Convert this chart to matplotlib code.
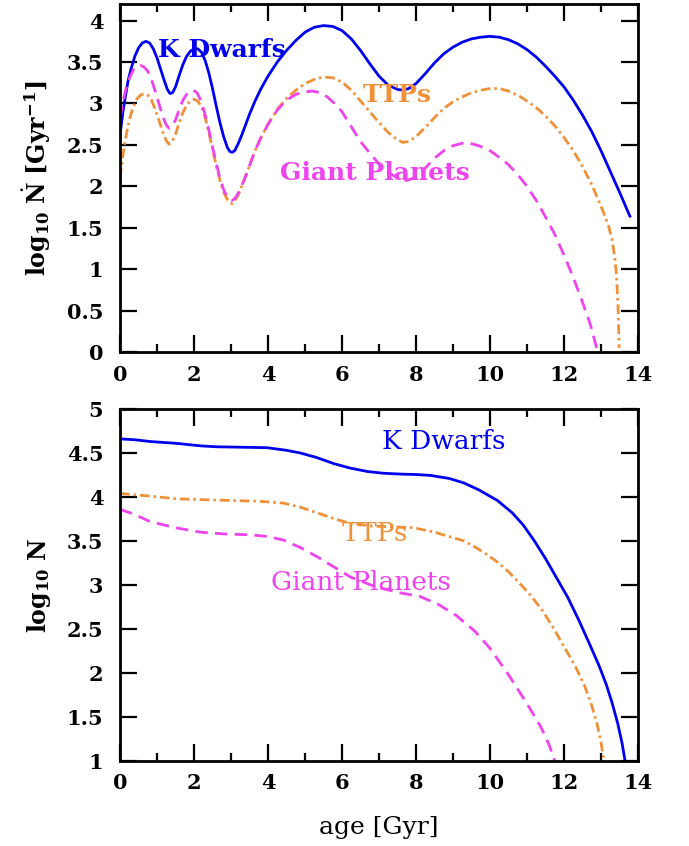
import matplotlib
matplotlib.use("Agg")
import matplotlib.pyplot as plt
from matplotlib.ticker import MultipleLocator

plt.rcParams['font.family'] = ['DejaVu Serif']
plt.rcParams['mathtext.fontset'] = 'dejavuserif'

# ---- top panel: formation rate, log10 Ndot [Gyr^-1] ----
kd_rate_age = [0.0, 0.08, 0.15, 0.22, 0.3, 0.4, 0.5, 0.6, 0.7, 0.8, 0.9, 1.0, 1.1, 1.2, 1.28, 1.35,
               1.42, 1.5, 1.6, 1.7, 1.8, 1.9, 2.0, 2.1, 2.2, 2.3, 2.4, 2.5, 2.6, 2.7, 2.8, 2.9,
               2.97, 3.03, 3.1, 3.2, 3.3, 3.4, 3.5, 3.65, 3.8, 4.0, 4.25, 4.5, 4.75, 5.0, 5.25,
               5.5, 5.75, 6.0, 6.25, 6.5, 6.75, 7.0, 7.25, 7.5, 7.65, 7.8, 8.0, 8.25, 8.5, 8.75,
               9.0, 9.25, 9.5, 9.75, 10.0, 10.25, 10.5, 10.75, 11.0, 11.25, 11.5, 11.75, 12.0,
               12.25, 12.5, 12.75, 13.0, 13.25, 13.5, 13.78]
kd_rate = [2.62, 2.9, 3.1, 3.28, 3.42, 3.57, 3.67, 3.73, 3.75, 3.73, 3.66, 3.55, 3.41, 3.27, 3.17,
           3.12, 3.13, 3.2, 3.34, 3.47, 3.57, 3.63, 3.66, 3.66, 3.62, 3.52, 3.37, 3.18, 2.97, 2.77,
           2.6, 2.47, 2.42, 2.41, 2.43, 2.52, 2.63, 2.75, 2.87, 3.03, 3.17, 3.33, 3.5, 3.64, 3.76,
           3.86, 3.92, 3.94, 3.93, 3.88, 3.78, 3.64, 3.48, 3.33, 3.22, 3.17, 3.16, 3.18, 3.24,
           3.36, 3.49, 3.6, 3.68, 3.74, 3.78, 3.8, 3.81, 3.8, 3.77, 3.72, 3.65, 3.56, 3.45, 3.33,
           3.2, 3.04, 2.86, 2.66, 2.43, 2.18, 1.93, 1.64]

ttp_rate_age = [0.0, 0.08, 0.15, 0.25, 0.35, 0.45, 0.55, 0.65, 0.75, 0.85, 0.95, 1.05, 1.15, 1.25,
                1.32, 1.4, 1.5, 1.6, 1.7, 1.8, 1.9, 2.0, 2.1, 2.2, 2.3, 2.4, 2.5, 2.6, 2.7, 2.8,
                2.9, 2.97, 3.03, 3.1, 3.2, 3.35, 3.5, 3.65, 3.8, 4.0, 4.25, 4.5, 4.75, 5.0, 5.25,
                5.5, 5.75, 6.0, 6.25, 6.5, 6.75, 7.0, 7.25, 7.5, 7.65, 7.8, 8.0, 8.25, 8.5, 8.75,
                9.0, 9.25, 9.5, 9.75, 10.0, 10.25, 10.5, 10.75, 11.0, 11.25, 11.5, 11.75, 12.0,
                12.25, 12.5, 12.75, 13.0, 13.2, 13.3, 13.37, 13.42, 13.46, 13.49]
ttp_rate = [2.1, 2.38, 2.58, 2.8, 2.95, 3.05, 3.1, 3.12, 3.1, 3.04, 2.93, 2.8, 2.66, 2.55, 2.51,
            2.53, 2.63, 2.77, 2.89, 2.98, 3.03, 3.05, 3.03, 2.96, 2.83, 2.65, 2.45, 2.25, 2.07,
            1.93, 1.84, 1.8, 1.79, 1.82, 1.9, 2.07, 2.25, 2.43, 2.58, 2.75, 2.93, 3.06, 3.16, 3.24,
            3.29, 3.32, 3.31, 3.26, 3.16, 3.03, 2.9, 2.77, 2.65, 2.56, 2.53, 2.54, 2.6, 2.71, 2.83,
            2.94, 3.02, 3.08, 3.13, 3.16, 3.18, 3.18, 3.15, 3.1, 3.03, 2.95, 2.85, 2.73, 2.59,
            2.43, 2.24, 2.02, 1.76, 1.53, 1.35, 1.15, 0.92, 0.55, 0.05]

gp_rate_age = [0.0, 0.07, 0.15, 0.25, 0.35, 0.45, 0.55, 0.65, 0.75, 0.85, 0.95, 1.05, 1.15, 1.25,
               1.33, 1.4, 1.5, 1.6, 1.7, 1.8, 1.9, 1.98, 2.08, 2.18, 2.28, 2.4, 2.5, 2.6, 2.7, 2.8,
               2.9, 2.97, 3.03, 3.1, 3.2, 3.35, 3.5, 3.65, 3.8, 4.0, 4.25, 4.5, 4.75, 5.0, 5.2, 5.4,
               5.6, 5.8, 6.0, 6.25, 6.5, 6.75, 7.0, 7.25, 7.5, 7.75, 8.0, 8.25, 8.5, 8.75, 9.0,
               9.25, 9.45, 9.7, 10.0, 10.25, 10.5, 10.75, 11.0, 11.25, 11.5, 11.75, 12.0, 12.25,
               12.5, 12.7, 12.9]
gp_rate = [2.82, 3.0, 3.16, 3.3, 3.4, 3.45, 3.46, 3.44, 3.39, 3.29, 3.15, 3.0, 2.85, 2.74, 2.7,
           2.72, 2.8, 2.93, 3.04, 3.11, 3.15, 3.16, 3.13, 3.04, 2.9, 2.68, 2.48, 2.28, 2.1, 1.96,
           1.87, 1.84, 1.83, 1.85, 1.92, 2.07, 2.25, 2.43, 2.58, 2.75, 2.92, 3.04, 3.11, 3.14,
           3.15, 3.13, 3.08, 3.0, 2.9, 2.72, 2.54, 2.4, 2.27, 2.17, 2.1, 2.07, 2.11, 2.22, 2.34,
           2.43, 2.49, 2.52, 2.52, 2.49, 2.43, 2.35, 2.26, 2.14, 2.0, 1.83, 1.63, 1.42, 1.17, 0.9,
           0.6, 0.35, 0.02]

# ---- bottom panel: cumulative number, log10 N ----
kd_num_age = [0.0, 0.4, 0.81, 1.5, 2.2, 2.62, 3.3, 3.97, 4.5, 4.87, 5.3, 5.77, 6.2, 6.68, 7.1, 7.58,
              8.0, 8.39, 8.9, 9.29, 9.7, 10.2, 10.6, 10.9, 11.2, 11.5, 11.8, 12.1, 12.4, 12.7,
              12.95, 13.15, 13.3, 13.45, 13.57, 13.65]
kd_num = [4.66, 4.65, 4.63, 4.61, 4.58, 4.57, 4.565, 4.56, 4.53, 4.5, 4.45, 4.38, 4.33, 4.29, 4.27,
          4.26, 4.255, 4.245, 4.21, 4.16, 4.08, 3.96, 3.82, 3.68, 3.5, 3.3, 3.08, 2.86, 2.6,
          2.32, 2.08, 1.86, 1.66, 1.43, 1.2, 1.0]

ttp_num_age = [0.0, 0.8, 1.5, 2.17, 3.0, 3.8, 4.42, 4.9, 5.33, 5.8, 6.23, 6.8, 7.4, 7.94, 8.5, 9.3,
               9.6, 9.9, 10.2, 10.5, 10.8, 11.1, 11.4, 11.7, 12.0, 12.3, 12.55, 12.75, 12.9, 13.0,
               13.08]
ttp_num = [4.04, 4.01, 3.98, 3.97, 3.96, 3.95, 3.93, 3.88, 3.82, 3.75, 3.7, 3.67, 3.66, 3.65, 3.6,
           3.5, 3.43, 3.35, 3.26, 3.15, 3.02, 2.88, 2.72, 2.52, 2.3, 2.08, 1.86, 1.63, 1.41, 1.21,
           1.0]

gp_num_age = [0.0, 0.4, 0.81, 1.5, 2.17, 2.8, 3.52, 4.0, 4.42, 4.9, 5.33, 5.8, 6.23, 6.9, 7.58,
              8.1, 8.6, 9.1, 9.6, 10.0, 10.5, 11.0, 11.37, 11.6, 11.75]
gp_num = [3.86, 3.8, 3.72, 3.65, 3.6, 3.58, 3.57, 3.55, 3.51, 3.42, 3.32, 3.2, 3.09, 2.98, 2.91,
          2.87, 2.78, 2.65, 2.47, 2.28, 1.98, 1.65, 1.39, 1.18, 1.0]

blue = '#0000ee'
orange = '#f0913a'
magenta = '#ee44ee'


def style_axes(ax, ylo, yhi):
    ax.set_xlim(0, 14)
    ax.set_ylim(ylo, yhi)
    ax.xaxis.set_major_locator(MultipleLocator(2))
    ax.xaxis.set_minor_locator(MultipleLocator(1))
    ax.yaxis.set_major_locator(MultipleLocator(0.5))
    ax.tick_params(which='both', direction='in', top=True, right=True, width=1.6, labelsize=15)
    ax.tick_params(which='major', length=12)
    ax.tick_params(which='minor', length=6)
    ax.tick_params(axis='x', which='major', pad=9)
    ax.tick_params(axis='y', which='major', pad=12)
    for lab in ax.get_xticklabels() + ax.get_yticklabels():
        lab.set_fontweight('bold')
    ax.yaxis.set_major_formatter(plt.FuncFormatter(lambda v, p: f'{v:g}'))
    for s in ax.spines.values():
        s.set_linewidth(2)


fig = plt.figure(figsize=(6.89, 8.46), dpi=100)
ax1 = fig.add_axes([0.1742, 0.5839, 0.7518, 0.4113])
ax2 = fig.add_axes([0.1742, 0.1005, 0.7518, 0.4161])

for ax, data in [(ax1, [(kd_rate_age, kd_rate), (ttp_rate_age, ttp_rate), (gp_rate_age, gp_rate)]),
                 (ax2, [(kd_num_age, kd_num), (ttp_num_age, ttp_num), (gp_num_age, gp_num)])]:
    (xk, yk), (xt, yt), (xg, yg) = data
    ax.plot(xk, yk, color=blue, lw=2)
    l, = ax.plot(xt, yt, color=orange, lw=2)
    l.set_dashes([3.5, 1.4, 0.9, 1.4])
    l, = ax.plot(xg, yg, color=magenta, lw=2)
    l.set_dashes([4.5, 2.6])

style_axes(ax1, 0, 4.2)
style_axes(ax2, 1, 5)

ax1.text(2.74, 3.64, 'K Dwarfs', color=blue, fontsize=18, fontweight='bold', ha='center', va='center')
ax1.text(7.5, 3.1, 'TTPs', color=orange, fontsize=18, fontweight='bold', ha='center', va='center')
ax1.text(6.9, 2.16, 'Giant Planets', color=magenta, fontsize=18, fontweight='bold', ha='center', va='center')

ax2.text(8.75, 4.63, 'K Dwarfs', color=blue, fontsize=19, ha='center', va='center')
ax2.text(6.89, 3.59, 'TTPs', color=orange, fontsize=19, ha='center', va='center')
ax2.text(6.5, 3.03, 'Giant Planets', color=magenta, fontsize=19, ha='center', va='center')

ax1.set_ylabel(r'$\mathbf{log}_{\mathbf{10}}\ \dot{\mathbf{N}}\ \mathbf{[Gyr}^{\mathbf{-1}}\mathbf{]}$', fontsize=17)
ax2.set_ylabel(r'$\mathbf{log}_{\mathbf{10}}\ \mathbf{N}$', fontsize=17)
ax2.set_xlabel('age [Gyr]', fontsize=18, labelpad=16)
ax1.yaxis.set_label_coords(-0.13, 0.5)
ax2.yaxis.set_label_coords(-0.13, 0.5)

fig.savefig('out.png', dpi=100)
